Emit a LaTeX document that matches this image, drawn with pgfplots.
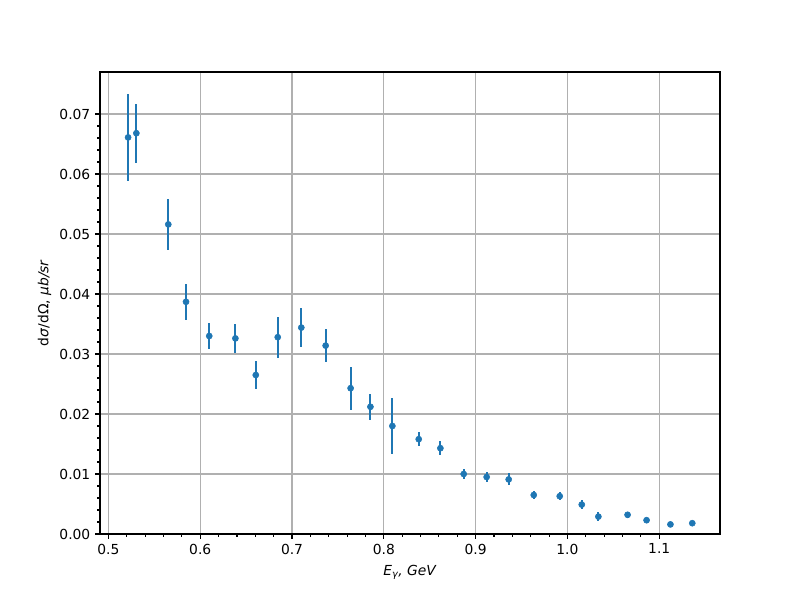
\documentclass[border=0pt]{standalone}
\usepackage{fontspec}
\setmainfont{DejaVu Sans}
\usepackage{pgfplots}
\pgfplotsset{compat=1.18}
\usepackage{pgfplotstable}
\definecolor{mplblue}{HTML}{1F77B4}
\definecolor{gridgray}{HTML}{B0B0B0}
\pgfplotstableread{
x y e
0.5214 0.0661 0.0072
0.5304 0.0668 0.0049
0.5652 0.0516 0.0043
0.5845 0.0387 0.0030
0.6098 0.0330 0.0022
0.6383 0.0326 0.0024
0.6605 0.0265 0.0024
0.6844 0.0328 0.0034
0.7101 0.0344 0.0033
0.7366 0.0314 0.0028
0.7638 0.0243 0.0036
0.7854 0.0212 0.0022
0.8093 0.0180 0.0047
0.8380 0.0158 0.0012
0.8616 0.0143 0.0012
0.8870 0.0100 0.0009
0.9120 0.0095 0.0008
0.9360 0.0091 0.0010
0.9633 0.0065 0.0007
0.9916 0.0063 0.0007
1.0156 0.0049 0.0007
1.0337 0.0029 0.0007
1.0655 0.0032 0.0005
1.0862 0.0023 0.0004
1.1122 0.0016 0.0002
1.1360 0.0018 0.0004
}\datatable
\begin{document}
\begin{tikzpicture}
\path[use as bounding box] (0,0) rectangle (8in,6in);
\begin{axis}[
  at={(1in,0.66in)}, anchor=south west,
  scale only axis, width=6.2in, height=4.62in,
  xmin=0.4908, xmax=1.1662, ymin=0, ymax=0.077,
  xtick={0.5,0.6,...,1.1}, ytick={0,0.01,...,0.07},
  minor x tick num=4, minor y tick num=4,
  tick align=outside, tick pos=left,
  major tick length=3.5pt, minor tick length=2pt,
  every tick/.style={black, line width=0.8pt},
  grid=major, major grid style={gridgray, line width=0.8pt},
  axis line style={black, line width=0.8pt},
  /pgf/number format/assume math mode=true,
  xticklabel style={/pgf/number format/.cd, fixed, fixed zerofill, precision=1},
  yticklabel style={/pgf/number format/.cd, fixed, fixed zerofill, precision=2},
  scaled y ticks=false, scaled x ticks=false,
  tick label style={font=\fontsize{10}{12}\selectfont},
  label style={font=\fontsize{10}{12}\selectfont},
  xlabel={\textit{E}\raisebox{-0.3ex}{\fontsize{7}{8}\selectfont\textit{γ}}\textit{, GeV}},
  ylabel={d\textit{σ}/dΩ, \textit{μb/sr}},
  xlabel style={yshift=-1pt},
  ylabel style={yshift=-1pt},
]
\addplot[mplblue, only marks, mark=*, mark size=2.2pt, mark options={draw=mplblue, fill=mplblue},
  error bars/.cd, y dir=both, y explicit, error mark=none,
  error bar style={line width=1.5pt, mplblue}]
  table[x=x, y=y, y error=e] {\datatable};
\end{axis}
\end{tikzpicture}
\end{document}
